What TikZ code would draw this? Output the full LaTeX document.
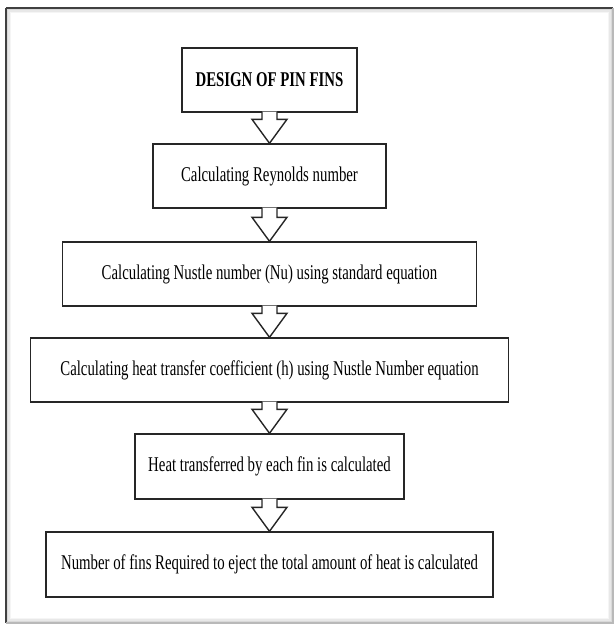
\documentclass[tikz,border=0pt]{standalone}
\usepackage{fontspec}
\setmainfont{Liberation Serif}
\usepackage{graphicx}
\usetikzlibrary{calc}

% narrow the lettering as in the scanned chart
\newcommand{\narrow}[1]{\scalebox{0.705}[1]{#1}}
% hollow block arrow from the bottom of one box to the top of the next
\newcommand{\blockarrow}[2]{%
\filldraw[stepline, fill=white] ([xshift=-7.5pt, yshift=1pt]#1.south) -- ([xshift=-7.5pt, yshift=24pt]#2.north) -- ([xshift=-17.5pt, yshift=24pt]#2.north) -- (#2.north) -- ([xshift=17.5pt, yshift=24pt]#2.north) -- ([xshift=7.5pt, yshift=24pt]#2.north) -- ([xshift=7.5pt, yshift=1pt]#1.south);}

\tikzset{
stepline/.style={line width=1.4pt, line join=miter, draw=black!85},
stepbox/.style={draw=black!85, line width=1.4pt, minimum height=64pt, inner sep=0pt, align=center, font=\fontsize{21}{24}\selectfont},
}

\begin{document}
\begin{tikzpicture}[x=1pt, y=-1pt]
\useasboundingbox (0,0) rectangle (616,630);
% frame with soft inner shadow
\draw[gray!8, line width=1.5pt] (10.5,12.5) rectangle (608.5,618.5);
\draw[gray!18, line width=1.5pt] (9,11) rectangle (610,620);
\draw[gray!30, line width=1.5pt] (7.5,9.5) rectangle (611.5,621.5);
\draw[black!75, line width=1.2pt] (6,8) -- (613,8);
\draw[black!75, line width=1.2pt] (6,8) -- (6,623);
\draw[gray!55, line width=1.2pt] (6,623) -- (613,623) -- (613,8);

% steps of the design
\node[stepbox, minimum width=175pt] (design) at (269.5,80) {\narrow{\textbf{DESIGN OF PIN FINS}}};
\node[stepbox, minimum width=233pt] (reynolds) at (269.5,176) {\narrow{Calculating Reynolds number}};
\node[stepbox, minimum width=414pt] (nusselt) at (269.5,274) {\narrow{Calculating Nustle number (Nu) using standard equation}};
\node[stepbox, minimum width=478pt] (coeff) at (269.5,370) {\narrow{Calculating heat transfer coefficient (h) using Nustle Number equation}};
\node[stepbox, minimum width=269pt, minimum height=65pt] (heat) at (269.5,466.5) {\narrow{Heat transferred by each fin is calculated}};
\node[stepbox, minimum width=447pt, minimum height=65pt] (number) at (269.5,564.5) {\narrow{Number of fins Required to eject the total amount of heat is calculated}};

% arrows between the steps
\blockarrow{design}{reynolds}
\blockarrow{reynolds}{nusselt}
\blockarrow{nusselt}{coeff}
\blockarrow{coeff}{heat}
\blockarrow{heat}{number}
\end{tikzpicture}
\end{document}
